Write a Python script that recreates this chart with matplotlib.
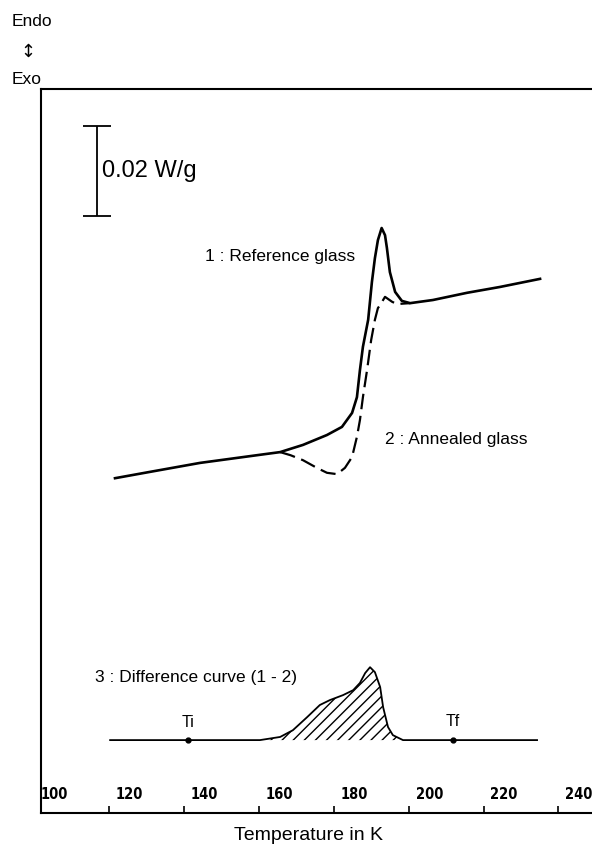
import numpy as np
import matplotlib.pyplot as plt
from matplotlib import transforms

plt.rcParams['font.family'] = ['Liberation Sans', 'DejaVu Sans']
plt.rcParams['hatch.linewidth'] = 1.0

# Curve 1 : reference glass (T in K, heat flow in W/g)
t_ref = [121.6, 130.9, 144.3, 160.3, 165.7, 171.8, 178.2, 182.2, 184.9, 186.2,
         187.0, 187.8, 189.2, 190.2, 191.0, 191.8, 192.8, 193.7, 194.2, 195.0,
         196.4, 198.2, 200.4, 203.0, 206.5, 215.6, 224.4, 235.1]
q_ref = [0.0744, 0.0758, 0.0778, 0.0796, 0.0802, 0.0818, 0.0840, 0.0858, 0.0889, 0.0924,
         0.0984, 0.1036, 0.1096, 0.1180, 0.1233, 0.1273, 0.1300, 0.1284, 0.1256, 0.1202,
         0.1158, 0.1138, 0.1133, 0.1136, 0.1140, 0.1156, 0.1169, 0.1187]

# Curve 2 : annealed glass (only where it leaves curve 1)
t_ann = [165.7, 168.5, 171.8, 175.5, 178.2, 180.9, 183.0, 184.9, 186.2, 187.0,
         187.8, 188.9, 190.0, 191.0, 191.8, 192.4, 193.7, 195.6, 196.9, 200.4]
q_ann = [0.0802, 0.0795, 0.0784, 0.0767, 0.0756, 0.0753, 0.0767, 0.0791, 0.0836, 0.0873,
         0.0924, 0.0984, 0.1051, 0.1096, 0.1122, 0.1129, 0.1147, 0.1136, 0.1131, 0.1133]

# Curve 3 : difference (1 - 2), drawn on its own baseline
base_level = 0.0162
t_diff = [120.3, 160.3, 165.7, 169.1, 172.9, 176.3, 179.0, 182.5, 185.2, 187.0,
          188.4, 189.7, 191.0, 192.4, 193.2, 194.5, 195.8, 198.5, 234.3]
q_diff = [0.0, 0.0, 0.0007, 0.0022, 0.0051, 0.0078, 0.0089, 0.0100, 0.0111, 0.0127,
          0.0149, 0.0162, 0.0151, 0.0118, 0.0073, 0.0029, 0.0011, 0.0, 0.0]
t_i, t_f = 141.1, 211.9

tick_vals = [100, 120, 140, 160, 180, 200, 220, 240]
tick_text = ['100', '120', '140', '160', '180', '200', '220', '240']

fig = plt.figure(figsize=(5.92, 8.51), dpi=100)
ax = fig.add_axes([41/592, 38/851, 551/592, 724/851])
ax.set_xlim(101.84, 248.97)
ax.set_ylim(0, 0.16089)

ax.plot(t_ref, q_ref, color='k', lw=1.9, solid_joinstyle='round')
ax.plot(t_ann, q_ann, color='k', lw=1.6, dashes=(7, 3))

t_d = np.array(t_diff)
q_d = base_level + np.array(q_diff)
ax.plot(t_d, q_d, color='k', lw=1.3)
ax.fill_between(t_d, base_level, q_d, facecolor='none', edgecolor='k',
                hatch='///', lw=0)
ax.plot([t_i, t_f], [base_level, base_level], 'o', color='k', ms=3.5)
ax.text(t_i, base_level + 0.0023, 'Ti', ha='center', va='bottom', fontsize=11.5)
ax.text(t_f, base_level + 0.0025, 'Tf', ha='center', va='bottom', fontsize=11.5)

# 0.02 W/g scale bar
ax.errorbar(116.8, 0.1427, yerr=0.01, color='k', lw=1.3, capsize=10, capthick=1.3)
ax.text(118.2, 0.1427, '0.02 W/g', ha='left', va='center', fontsize=17)

ax.text(145.5, 0.1237, '1 : Reference glass', ha='left', va='center', fontsize=12.5)
ax.text(193.7, 0.0831, '2 : Annealed glass', ha='left', va='center', fontsize=12.5)
ax.text(116.2, 0.0302, '3 : Difference curve (1 - 2)', ha='left', va='center', fontsize=12.5)

# axes frame: left, top, bottom only
ax.spines['right'].set_visible(False)
for s in ['left', 'top', 'bottom']:
    ax.spines[s].set_linewidth(1.5)
ax.set_yticks([])
ax.set_xticks(tick_vals[1:])
ax.set_xticklabels([])
ax.tick_params(axis='x', direction='in', length=5, width=1.2)

off = transforms.ScaledTranslation(5/72, 0, fig.dpi_scale_trans)
trans = transforms.blended_transform_factory(ax.transData, ax.transAxes) + off
for v, lab in zip(tick_vals, tick_text):
    ax.text(v, 0.026, lab, transform=trans, ha='left', va='center',
            fontsize=10.5, fontweight='bold', fontstretch='condensed',
            family=['DejaVu Sans'])

fig.text(308/592, 1 - 836/851, 'Temperature in K', ha='center', va='center', fontsize=14)
fig.text(12/592, 1 - 22/851, 'Endo', ha='left', va='center', fontsize=12.5)
fig.text(28/592, 1 - 52/851, '\u2195', ha='center', va='center', fontsize=13,
         family=['DejaVu Sans'])
fig.text(12/592, 1 - 80/851, 'Exo', ha='left', va='center', fontsize=12.5)

fig.savefig('out.png', dpi=100)
